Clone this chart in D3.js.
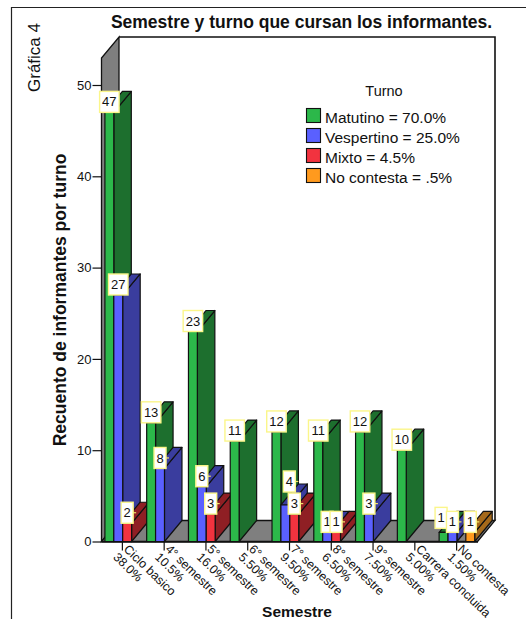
<!DOCTYPE html>
<html>
<head>
<meta charset="utf-8">
<script src="https://cdn.jsdelivr.net/npm/d3@7/dist/d3.min.js"></script>
<style>
html,body{margin:0;padding:0;background:#fff;}
svg{display:block;}
text{font-family:"Liberation Sans",Arial,sans-serif;fill:#111;}
</style>
</head>
<body>
<script>
// Semester names and their share of respondents
const semestres = ["Ciclo basico","4° semestre","5° semestre","6° semestre","7° semestre","8° semestre","9° semestre","Carrera concluida","No contesta"];
const porcentajes = ["38.0%","10.5%","16.0%","5.50%","9.50%","6.50%","7.50%","5.00%","1.50%"];

// Respondent counts per shift, one value per semester
const matutino   = [47,13,23,11,12,11,12,10,1];
const vespertino = [27, 8, 6, 0, 4, 1, 3, 0,1];
const mixto      = [ 2, 0, 3, 0, 3, 1, 0, 0,0];
const noContesta = [ 0, 0, 0, 0, 0, 0, 0, 0,1];

const turnos = ["Matutino","Vespertino","Mixto","No contesta"];
const leyenda = ["Matutino = 70.0%","Vespertino = 25.0%","Mixto = 4.5%","No contesta = .5%"];
const colores = ["#2cb84a","#5a60ff","#f2333f","#ff9a1e"];
const laterales = ["#1d6f2e","#3a3d9e","#8f1f24","#a5691a"];
const yTicks = [0,10,20,30,40,50];

const series = [matutino, vespertino, mixto, noContesta];
const W = 526, H = 619;

const svg = d3.select("body").append("svg").attr("width",W).attr("height",H);

// Oblique projection offset of the 3D box
const dx = 17.5, dy = -21;

const y = d3.scaleLinear().domain([0,50]).range([541.5,85]);
const x = d3.scaleBand().domain(semestres).range([101.5,477.5]);
const xTurno = d3.scaleBand().domain(turnos).range([3.4,39]);
const base = y(0), techo = 58;
const left = x.range()[0], right = x.range()[1];
const pts = a => a.map(p => p.join(",")).join(" ");

// Page frame
svg.append("path").attr("d",`M11.5,619V7.5H526`).attr("fill","none").attr("stroke","#222").attr("stroke-width",1.2);

// Back wall, side wall and floor
svg.append("polyline").attr("points",pts([[left+dx,techo+dy],[right+dx,techo+dy],[right+dx,base+dy]]))
  .attr("fill","none").attr("stroke","#111").attr("stroke-width",1.6);
svg.append("polygon").attr("points",pts([[left,base],[left,techo],[left+dx,techo+dy],[left+dx,base+dy]]))
  .attr("fill","#7f7f7f").attr("stroke","#111").attr("stroke-width",1.3);
svg.append("polygon").attr("points",pts([[left,base],[right,base],[right+dx,base+dy],[left+dx,base+dy]]))
  .attr("fill","#7f7f7f").attr("stroke","#111").attr("stroke-width",1.3);

// Bars, painted left to right so each front face covers its neighbour's side
const barras = [];
semestres.forEach((s,i) => turnos.forEach((t,j) => {
  if (series[j][i] > 0) barras.push({s, t, j, v: series[j][i]});
}));
const g = svg.append("g").attr("stroke","#111").attr("stroke-width",1.2).attr("stroke-linejoin","round");
barras.forEach(b => {
  const x0 = x(b.s) + xTurno(b.t), w = xTurno.bandwidth(), x1 = x0 + w, yv = y(b.v);
  g.append("polygon").attr("points",pts([[x1,yv],[x1+dx,yv+dy],[x1+dx,base+dy],[x1,base]])).attr("fill",laterales[b.j]);
  g.append("polygon").attr("points",pts([[x0,yv],[x0+dx,yv+dy],[x1+dx,yv+dy],[x1,yv]])).attr("fill",laterales[b.j]);
  g.append("rect").attr("x",x0).attr("y",yv).attr("width",w).attr("height",base-yv).attr("fill",colores[b.j]);
});

// Value axis
const ejeY = svg.append("g").attr("transform",`translate(${left},0)`)
  .call(d3.axisLeft(y).tickValues(yTicks).tickSize(9).tickPadding(1).tickSizeOuter(0));
ejeY.select(".domain").remove();
ejeY.selectAll("line").attr("stroke","#111").attr("stroke-width",1.2);
ejeY.selectAll("text").style("font-size","13px").style("font-family",'"Liberation Sans",Arial,sans-serif').attr("fill","#111");

// Semester axis: ticks plus slanted two-line labels
const ejeX = svg.append("g").attr("transform",`translate(0,${base})`)
  .call(d3.axisBottom(x).tickSize(9).tickSizeOuter(0).tickFormat(""));
ejeX.select(".domain").attr("stroke","#111").attr("stroke-width",1.3);
ejeX.selectAll("line").attr("stroke","#111").attr("stroke-width",1.2);
ejeX.selectAll(".tick").each(function(d,i){
  const t = d3.select(this);
  t.select("text").remove();
  const lbl = t.append("text").attr("transform","translate(0.5,8.5) rotate(44)")
    .style("font-size","12.4px").style("font-family",'"Liberation Sans",Arial,sans-serif').attr("fill","#111").attr("text-anchor","start");
  lbl.append("tspan").attr("x",0).attr("y",0).text(d);
  lbl.append("tspan").attr("x",-2).attr("y",13).text(porcentajes[i]);
});

// Crowded value labels are nudged off their neighbours
const ajusteRotulo = new Map([
  ["7° semestre|Vespertino",[4,-13]],
  ["No contesta|Matutino",[-2.5,-4]]
]);

// Value labels: white boxes with a yellow border resting on each bar's front top edge
const rotulos = svg.append("g");
barras.forEach(b => {
  const [ox,oy] = ajusteRotulo.get(b.s+"|"+b.t) || [0,0];
  const cx = x(b.s) + xTurno(b.t) + xTurno.bandwidth()/2 + ox, yv = y(b.v) + oy;
  const ancho = String(b.v).length > 1 ? 19.5 : 12, alto = 21;
  if (String(b.v).length === 1) {
    rotulos.append("line").attr("x1",cx+ancho/2).attr("x2",cx+ancho/2+3).attr("y1",yv-alto/2).attr("y2",yv-alto/2)
      .attr("stroke","#f4e36a").attr("stroke-width",1.2);
  }
  rotulos.append("rect").attr("x",cx-ancho/2).attr("y",yv-alto).attr("width",ancho).attr("height",alto)
    .attr("fill","#fff").attr("stroke","#fbf68a").attr("stroke-width",1.4);
  rotulos.append("text").attr("x",cx).attr("y",yv-alto/2+4.6).attr("text-anchor","middle").style("font-size","13px").text(b.v);
});

// Titles
svg.append("text").attr("x",301.5).attr("y",28).attr("text-anchor","middle")
  .style("font-size","17.5px").style("font-weight","bold").text("Semestre y turno que cursan los informantes.");
svg.append("text").attr("transform","translate(66,300) rotate(-90)").attr("text-anchor","middle")
  .style("font-size","17.5px").style("font-weight","bold").text("Recuento de informantes por turno");
svg.append("text").attr("x",297).attr("y",616.5).attr("text-anchor","middle")
  .style("font-size","15.5px").style("font-weight","bold").text("Semestre");
svg.append("text").attr("transform","translate(40,57.5) rotate(-90)").attr("text-anchor","middle")
  .style("font-size","17px").text("Gráfica 4");

// Legend
svg.append("text").attr("x",384).attr("y",96).attr("text-anchor","middle").style("font-size","14.5px").text("Turno");
const filaLeyenda = d3.scaleBand().domain(leyenda).range([105,185]);
leyenda.forEach((l,i) => {
  const yy = filaLeyenda(l);
  svg.append("rect").attr("x",306.5).attr("y",yy+3.5).attr("width",14).attr("height",14)
    .attr("fill",colores[i]).attr("stroke","#111").attr("stroke-width",1.1);
  svg.append("text").attr("x",325).attr("y",yy+18).style("font-size","15.5px").text(l);
});
</script>
</body>
</html>
